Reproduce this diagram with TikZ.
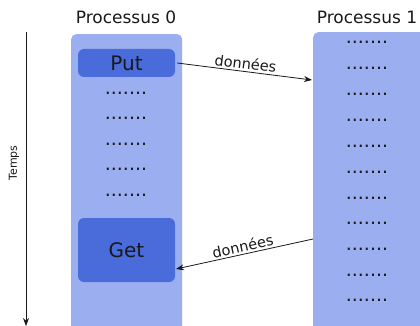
\documentclass[tikz,border=0pt]{standalone}
\usepackage{fontspec}
\setmainfont{DejaVu Sans}
\usetikzlibrary{arrows.meta}
\definecolor{lightblue}{RGB}{155,174,240}
\definecolor{darkblue}{RGB}{74,108,219}
\definecolor{ink}{RGB}{25,25,25}
\begin{document}
\begin{tikzpicture}[x=1pt,y=-1pt,
  procbox/.style={fill=lightblue, rounded corners=5pt, anchor=north west, inner sep=0pt},
  opbox/.style={fill=darkblue, rounded corners=6pt, minimum width=97pt, inner sep=0pt, text=ink, font=\fontsize{20}{22}\selectfont},
  title/.style={text=ink, font=\fontsize{17}{19}\selectfont},
  dots/.style={text=ink, font=\fontsize{19}{20}\selectfont, inner sep=0pt},
  conn/.style={draw=ink, line width=0.8pt, -{Stealth[length=8pt,width=6pt]}},
  lbl/.style={text=ink, font=\fontsize{14.5}{16}\selectfont, inner sep=2pt}
]
\clip (0,0) rectangle (420,326);
\fill[white] (0,0) rectangle (420,326);
% process columns
\node[procbox, minimum width=111pt, minimum height=310pt] (p0) at (71,34) {};
\node[procbox, minimum width=130pt, minimum height=310pt] (p1) at (313,32) {};
\node[title] (t0) at (126,17) {Processus 0};
\node[title] (t1) at (367,17) {Processus 1};
% operations
\node[opbox, minimum height=28pt] (put) at (126.5,63) {Put};
\node[opbox, minimum height=64pt] (get) at (126.5,250) {Get};
% dots in process 0
\foreach \y [count=\i] in {93,118,144,169,195}
  \node[dots] (a\i) at (126,\y) {.......};
% dots in process 1
\foreach \y [count=\i] in {42,68,94,120,146,172,198,223,249,275,300}
  \node[dots] (b\i) at (367,\y) {.......};
% time axis
\coordinate (ts) at (26,32);
\coordinate (te) at (26,326);
\draw[draw=ink, line width=0.8pt, -{Stealth[length=8pt,width=6pt]}] (ts) -- (te);
\node[text=ink, rotate=90, font=\fontsize{11}{12}\selectfont] (temps) at (14,163) {Temps};
% messages
\coordinate (in1) at (312,80);
\coordinate (out1) at (313,239);
\coordinate (in0) at (176,269);
\draw[conn] ([xshift=2pt]put.east) -- (in1) node[lbl, midway, above, sloped] {données};
\draw[draw=ink, line width=0.8pt, {Stealth[length=8pt,width=6pt]}-] (in0) -- (out1) node[lbl, midway, above, sloped] {données};
\end{tikzpicture}
\end{document}
